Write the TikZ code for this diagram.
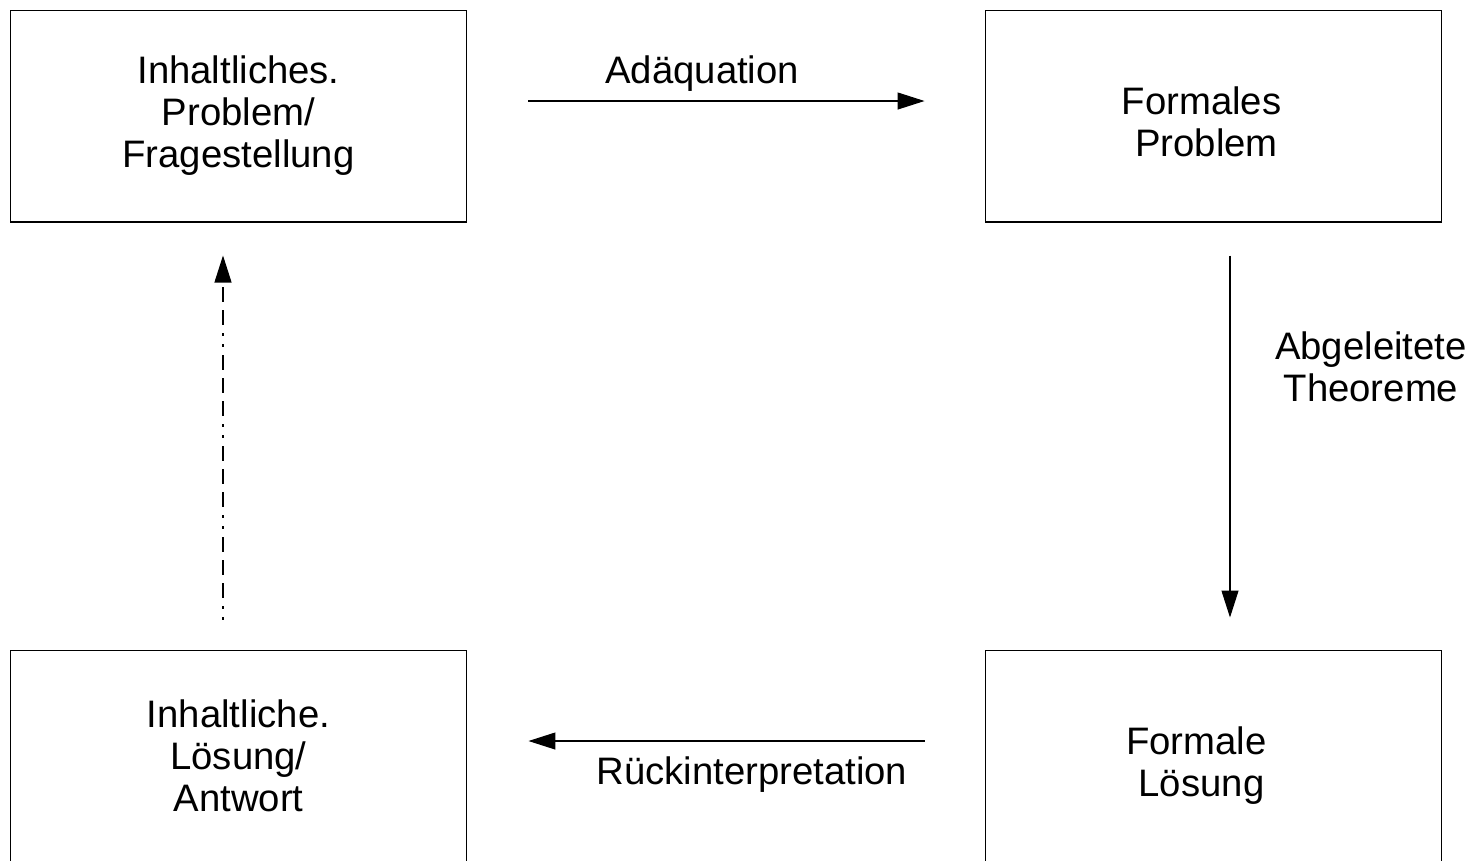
\documentclass[tikz,border=0pt]{standalone}
\usepackage{fontspec}
\setmainfont{Liberation Sans}
\usetikzlibrary{arrows.meta}
\begin{document}
\begin{tikzpicture}[x=0.02cm,y=-0.02cm,
  box/.style={draw,line width=0.6pt,minimum width=9.14cm,minimum height=4.24cm,align=center,font=\fontsize{21.8}{23.9}\selectfont},
  lbl/.style={align=center,font=\fontsize{21.8}{23.9}\selectfont},
  arr/.style={line width=0.6pt,-{Triangle[length=0.54cm,width=0.34cm]}}]
\useasboundingbox (0,0) rectangle (1474,860);
\clip (0,0) rectangle (1474,860);
\node[box] (ip) at (238.5,116) {Inhaltliches.\\ Problem/\\Fragestellung};
\node[box,label={[lbl,xshift=-0.24cm,yshift=-0.12cm]center:{Formales\\ \hspace*{0.2cm}Problem}}] (fp) at (1213.5,116) {};
\node[box] (il) at (238.5,756) {Inhaltliche.\\ Lösung/\\Antwort};
\node[box,label={[lbl,xshift=-0.34cm,yshift=-0.2cm]center:{Formale\\ \hspace*{0.2cm}Lösung}}] (fl) at (1213.5,756) {};
\draw[arr,shorten <=1.22cm,shorten >=1.2cm] ([yshift=0.3cm]ip.east) -- node[lbl,pos=0.454,anchor=base,yshift=0.36cm] (adq) {Adäquation} ([yshift=0.3cm]fp.west);
\draw[arr,shorten <=0.66cm,shorten >=0.64cm] ([xshift=0.33cm]fp.south) -- node[lbl,pos=0.339,xshift=2.82cm] (abt) {Abgeleitete\\Theoreme} ([xshift=0.33cm]fl.north);
\draw[arr,shorten <=1.2cm,shorten >=1.22cm] ([yshift=0.3cm]fl.west) -- node[lbl,pos=0.45,anchor=base,yshift=-0.86cm] (rue) {Rückinterpretation} ([yshift=0.3cm]il.east);
\draw[arr,dash pattern=on 0.06cm off 0.16cm on 0.06cm off 0.16cm on 0.3cm off 0.16cm on 0.3cm off 0.16cm on 0.3cm off 0.16cm,shorten <=0.6cm,shorten >=0.66cm] ([xshift=-0.31cm]il.north) -- ([xshift=-0.31cm]ip.south);
\end{tikzpicture}
\end{document}
